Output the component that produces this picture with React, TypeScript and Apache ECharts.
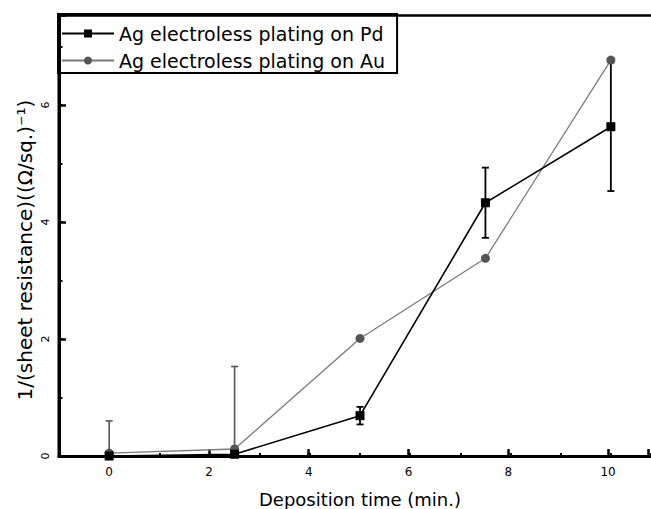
import React, { useEffect, useRef } from "react";
import * as echarts from "echarts";

const times = [0, 2.5, 5, 7.5, 10];
const pdValues = [0, 0.03, 0.69, 4.33, 5.63];
const pdErrors = [0, 0, 0.15, 0.6, 1.1];
const auValues = [0.05, 0.12, 2.01, 3.38, 6.77];
const auErrors = [0.55, 1.41, 0, 0, 0];
const xTickLabels = ["0", "2", "4", "6", "8", "10"];
const yTickLabels = ["0", "2", "4", "6"];
const seriesNames = ["Ag electroless plating on Pd", "Ag electroless plating on Au"];
const xName = "Deposition time (min.)";
const yName = "1/(sheet resistance)((\u03A9/sq.)\u207B\u00B9)";

const W = 651;
const H = 509;
const LEFT = 59;
const TOP = 15;
const BOTTOM_PX = 456;
const XMIN = -1;
const XMAX = 10.8;
const YMAX = 7.54;
const FONT = "DejaVu Sans";

export default function App() {
  const ref = useRef<HTMLDivElement>(null);
  useEffect(() => {
    if (!ref.current) return;
    const chart = echarts.init(ref.current, undefined, { renderer: "svg" });
    const unit = (W - LEFT) / (XMAX - XMIN);
    const left1 = LEFT + (0 - XMIN) * unit;
    const bottom = H - BOTTOM_PX;

    const errSeries = (name: string, vals: number[], errs: number[], color: string, width: number) => ({
      type: "custom",
      name: name + "_err",
      xAxisIndex: 0,
      yAxisIndex: 0,
      clip: true,
      silent: true,
      z: 1,
      data: times.map((t, i) => [t, vals[i], errs[i]]),
      renderItem: (params: any, api: any) => {
        const x = api.value(0);
        const y = api.value(1);
        const e = api.value(2);
        if (!e) return null;
        const lo = Math.max(0, y - e);
        const hi = y + e;
        const pt = api.coord([x, hi]);
        const pb = api.coord([x, lo]);
        const c = 3.5;
        const st = { stroke: color, lineWidth: width };
        return {
          type: "group",
          children: [
            { type: "line", shape: { x1: pt[0], y1: pt[1], x2: pb[0], y2: pb[1] }, style: st },
            { type: "line", shape: { x1: pt[0] - c, y1: pt[1], x2: pt[0] + c, y2: pt[1] }, style: st },
            { type: "line", shape: { x1: pb[0] - c, y1: pb[1], x2: pb[0] + c, y2: pb[1] }, style: st },
          ],
        };
      },
    });

    const gridBox = { left: LEFT, right: 0, top: TOP, bottom: bottom };
    const option: any = {
      animation: false,
      backgroundColor: "#ffffff",
      grid: [
        { ...gridBox },
        { left: left1, right: 0, top: TOP, bottom: bottom },
        { ...gridBox },
      ],
      legend: {
        data: seriesNames,
        orient: "vertical",
        left: 58,
        top: 14,
        borderColor: "#000",
        borderWidth: 2,
        padding: [10, 12, 3, 3],
        itemWidth: 52,
        itemHeight: 10,
        itemGap: 8,
        textStyle: { fontFamily: FONT, fontSize: 19, color: "#000" },
      },
      xAxis: [
        {
          type: "value",
          gridIndex: 0,
          min: XMIN,
          max: XMAX,
          interval: 1,
          position: "bottom",
          axisLine: { show: true, onZero: false, lineStyle: { color: "#000", width: 3 } },
          axisTick: { show: true, inside: true, length: 3, lineStyle: { color: "#000", width: 2 } },
          axisLabel: { show: false },
          splitLine: { show: false },
        },
        {
          type: "value",
          gridIndex: 1,
          min: 0,
          max: XMAX,
          interval: 2,
          position: "bottom",
          axisLine: { show: false, onZero: false },
          axisTick: { show: true, inside: true, length: 7, lineStyle: { color: "#000", width: 2.5 } },
          axisLabel: {
            show: true,
            margin: 10,
            fontFamily: FONT,
            fontSize: 12,
            color: "#000",
            formatter: (v: number) => (xTickLabels.indexOf(String(v)) >= 0 ? String(v) : ""),
          },
          splitLine: { show: false },
        },
        {
          type: "value",
          gridIndex: 0,
          min: XMIN,
          max: XMAX,
          position: "top",
          axisLine: { show: true, onZero: false, lineStyle: { color: "#000", width: 2.5 } },
          axisTick: { show: false },
          axisLabel: { show: false },
          splitLine: { show: false },
        },
        {
          type: "value",
          gridIndex: 2,
          min: XMIN,
          max: XMAX,
          show: false,
        },
      ],
      yAxis: [
        {
          type: "value",
          gridIndex: 0,
          min: 0,
          max: YMAX,
          interval: 2,
          position: "left",
          axisLine: { show: true, onZero: false, lineStyle: { color: "#000", width: 3 } },
          axisTick: { show: true, inside: true, length: 7, lineStyle: { color: "#000", width: 2.5 } },
          axisLabel: {
            show: true,
            rotate: 90,
            margin: 8,
            fontFamily: FONT,
            fontSize: 11,
            color: "#000",
            formatter: (v: number) => (yTickLabels.indexOf(String(v)) >= 0 ? String(v) : ""),
          },
          splitLine: { show: false },
        },
        {
          type: "value",
          gridIndex: 1,
          min: 0,
          max: 1,
          show: false,
        },
        {
          type: "value",
          gridIndex: 2,
          min: 0,
          max: YMAX,
          interval: 1,
          position: "left",
          axisLine: { show: false, onZero: false },
          axisTick: { show: true, inside: true, length: 3.5, lineStyle: { color: "#000", width: 2 } },
          axisLabel: { show: false },
          splitLine: { show: false },
        },
      ],
      graphic: [
        {
          type: "line",
          z: 100,
          shape: { x1: LEFT, y1: TOP - 1.2, x2: LEFT, y2: BOTTOM_PX + 1.5 },
          style: { stroke: "#000000", lineWidth: 3 },
        },
        {
          type: "text",
          x: 25,
          y: 250,
          rotation: Math.PI / 2,
          style: {
            text: yName,
            fontFamily: FONT,
            fontSize: 20,
            fill: "#000",
            align: "center",
            verticalAlign: "middle",
          },
        },
        {
          type: "text",
          x: 360,
          y: 499,
          style: {
            text: xName,
            fontFamily: FONT,
            fontSize: 18,
            fill: "#000",
            align: "center",
            verticalAlign: "middle",
          },
        },
      ],
      series: [
        errSeries(seriesNames[1], auValues, auErrors, "#555555", 1.6),
        errSeries(seriesNames[0], pdValues, pdErrors, "#000000", 1.8),
        {
          type: "line",
          name: seriesNames[1],
          xAxisIndex: 0,
          yAxisIndex: 0,
          data: times.map((t, i) => [t, auValues[i]]),
          symbol: "circle",
          symbolSize: 9,
          itemStyle: { color: "#555555" },
          lineStyle: { color: "#7a7a7a", width: 1.3 },
          z: 2,
        },
        {
          type: "line",
          name: seriesNames[0],
          xAxisIndex: 0,
          yAxisIndex: 0,
          data: times.map((t, i) => [t, pdValues[i]]),
          symbol: "rect",
          symbolSize: 9,
          itemStyle: { color: "#000000" },
          lineStyle: { color: "#000000", width: 1.6 },
          z: 3,
        },
      ],
    };
    chart.setOption(option);
    return () => chart.dispose();
  }, []);
  return (
    <div
      ref={ref}
      style={{ position: "fixed", left: 0, top: 0, width: W, height: H, background: "#fff" }}
    />
  );
}
